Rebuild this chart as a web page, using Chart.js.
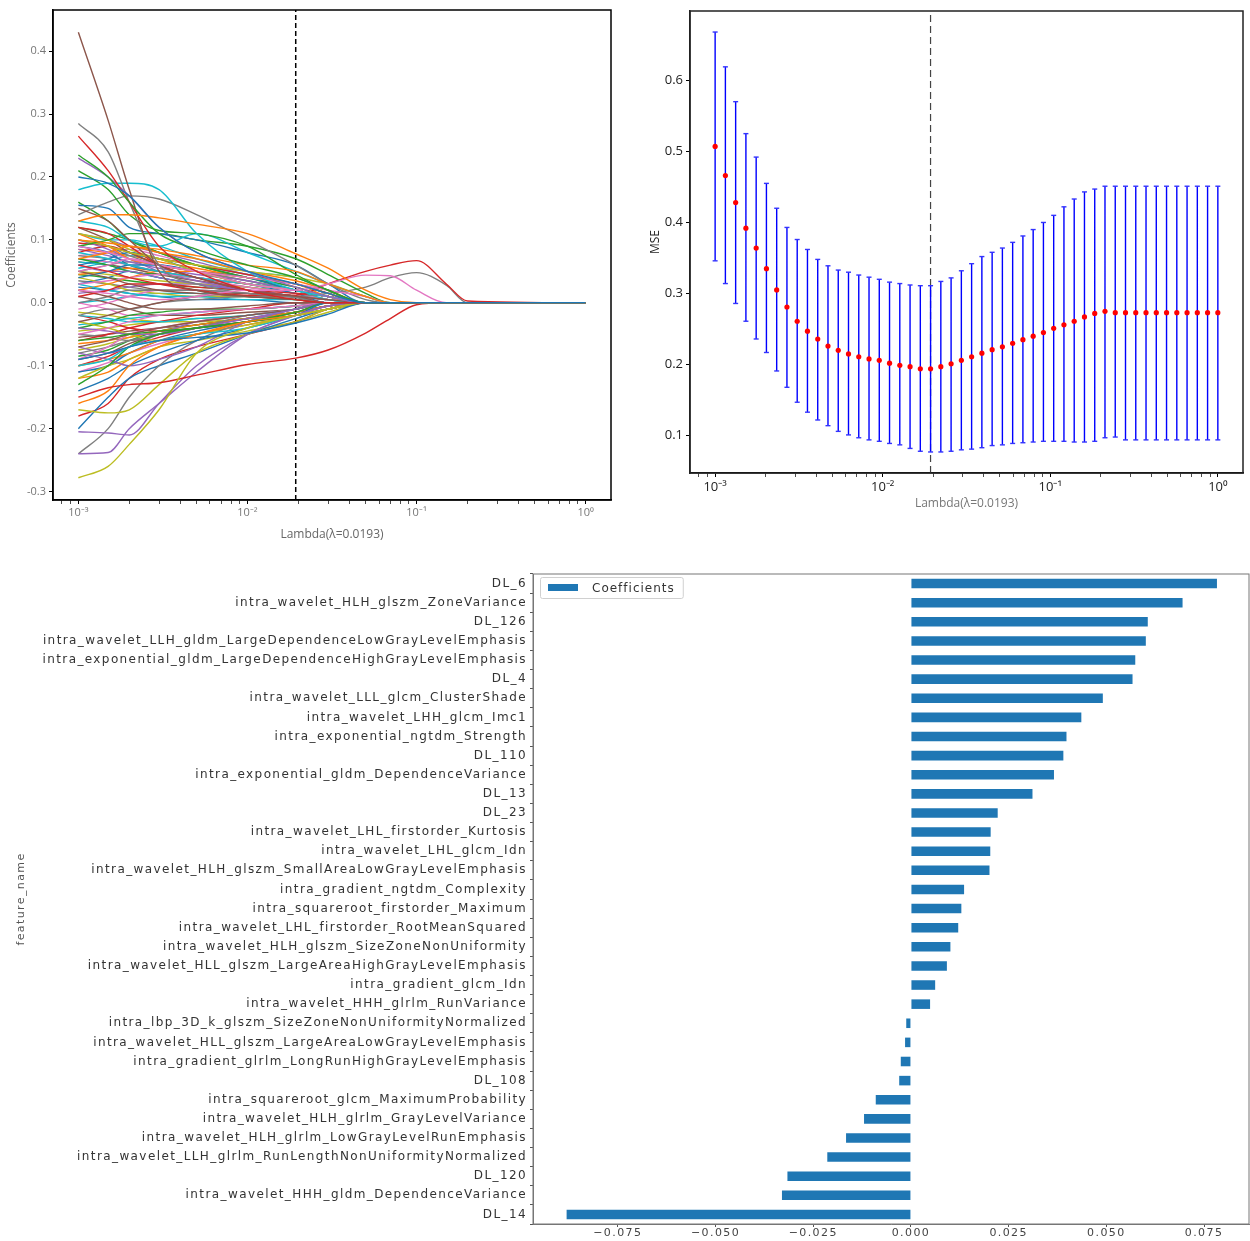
<!DOCTYPE html>
<html><head><meta charset="utf-8">
<script src="https://cdn.jsdelivr.net/npm/chart.js@4.4.1/dist/chart.umd.min.js"></script>
<style>
html,body{margin:0;padding:0;background:#fff;}
body{width:1250px;height:1241px;position:relative;overflow:hidden;}
.box{position:absolute;}
</style></head><body>
<div class="box" style="left:0;top:0;width:625px;height:545px"><canvas id="c1"></canvas></div>
<div class="box" style="left:630px;top:0;width:620px;height:520px"><canvas id="c2"></canvas></div>
<div class="box" style="left:0;top:560px;width:1250px;height:681px"><canvas id="c3"></canvas></div>
<script>
// ---------------- DATA ----------------
const TAB10 = ['#1f77b4','#ff7f0e','#2ca02c','#d62728','#9467bd','#8c564b','#e377c2','#7f7f7f','#bcbd22','#17becf'];
const bestLambda = 0.0193;
const lambdaTitle = 'Lambda(λ=0.0193)';

// Panel A: LASSO coefficient paths
const pathLambdas = [0.001,0.0015,0.002,0.003,0.005,0.01,0.0193,0.03,0.05,0.07,0.1,0.15,0.2,1];
const coefPaths = [
[0.20,0.19,0.17,0.12,0.08,0.05,0.03,0.015,0,0,0,0,0,0],
[0.13,0.14,0.14,0.135,0.125,0.11,0.078,0.055,0.02,0.005,0,0,0,0],
[0.235,0.20,0.16,0.11,0.085,0.06,0.04,0.02,0,0,0,0,0,0],
[0.265,0.21,0.16,0.09,0.05,0.02,0.005,0,0,0,0,0,0,0],
[0.23,0.20,0.17,0.12,0.08,0.05,0.025,0.01,0,0,0,0,0,0],
[0.43,0.29,0.18,0.05,0.02,0.01,0.005,0,0,0,0,0,0,0],
[0.02,0.015,0.01,0.005,0.01,0.02,0.02,0.03,0.044,0.043,0.02,0,0,0],
[0.285,0.24,0.16,0.06,0.03,0.015,0.008,0,0,0,0,0,0,0],
[-0.278,-0.26,-0.225,-0.17,-0.08,-0.04,-0.02,-0.01,0,0,0,0,0,0],
[0.18,0.19,0.19,0.18,0.11,0.05,0.02,0.01,0,0,0,0,0,0],
[-0.09,-0.08,-0.07,-0.06,-0.055,-0.048,-0.032,-0.018,0,0,0,0,0,0],
[0.10,0.095,0.09,0.085,0.075,0.06,0.05,0.03,0.01,0,0,0,0,0],
[0.21,0.18,0.14,0.115,0.11,0.09,0.045,0.02,0,0,0,0,0,0],
[-0.15,-0.135,-0.13,-0.127,-0.115,-0.098,-0.088,-0.075,-0.048,-0.025,-0.003,0,0,0],
[-0.205,-0.207,-0.21,-0.16,-0.10,-0.05,-0.02,-0.005,0,0,0,0,0,0],
[0.15,0.13,0.10,0.06,0.04,0.02,0.01,0,0,0,0,0,0,0],
[0.09,0.08,0.07,0.06,0.05,0.04,0.03,0.02,0.01,0,0,0,0,0],
[0.14,0.16,0.17,0.165,0.14,0.10,0.06,0.03,0.005,0,0,0,0,0],
[-0.17,-0.175,-0.17,-0.13,-0.08,-0.05,-0.03,-0.01,0,0,0,0,0,0],
[0.13,0.12,0.10,0.09,0.11,0.08,0.05,0.03,0.01,0,0,0,0,0],
[0.155,0.15,0.12,0.11,0.10,0.08,0.06,0.03,0,0,0,0,0,0],
[-0.16,-0.14,-0.10,-0.07,-0.05,-0.03,-0.02,-0.01,0,0,0,0,0,0],
[0.09,0.10,0.11,0.11,0.10,0.09,0.07,0.045,0.015,0,0,0,0,0],
[0.06,0.05,0.04,0.03,0.02,0.012,0.012,0.03,0.05,0.06,0.067,0.03,0.003,0],
[-0.24,-0.238,-0.20,-0.16,-0.11,-0.05,-0.02,-0.005,0,0,0,0,0,0],
[-0.03,-0.02,-0.01,0,0.01,0.015,0.01,0.005,0,0,0,0,0,0],
[0.05,0.06,0.07,0.06,0.05,0.03,0.02,0.01,0,0,0,0,0,0],
[-0.02,-0.01,-0.01,0,0.005,0.01,0.01,0.015,0.025,0.04,0.048,0.028,0,0],
[0.10,0.09,0.08,0.07,0.06,0.05,0.04,0.03,0.01,0,0,0,0,0],
[-0.10,-0.09,-0.07,-0.06,-0.05,-0.04,-0.02,-0.01,0,0,0,0,0,0],
[-0.14,-0.12,-0.10,-0.08,-0.06,-0.04,-0.02,0,0,0,0,0,0,0],
[0.07,0.08,0.09,0.08,0.07,0.05,0.035,0.02,0,0,0,0,0,0],
[-0.13,-0.10,-0.07,-0.05,-0.04,-0.03,-0.015,0,0,0,0,0,0,0],
[0.12,0.11,0.09,0.06,0.04,0.02,0.01,0,0,0,0,0,0,0],
[-0.08,-0.09,-0.10,-0.09,-0.07,-0.03,-0.01,0,0,0,0,0,0,0],
[0.05,0.04,0.03,0.02,0.015,0.01,0.005,0,0,0,0,0,0,0],
[-0.05,-0.04,-0.03,-0.02,-0.015,-0.01,-0.005,0,0,0,0,0,0,0],
[-0.24,-0.20,-0.15,-0.10,-0.06,-0.03,-0.01,0,0,0,0,0,0,0],
[0.11,0.10,0.085,0.07,0.05,0.03,0.02,0.01,0,0,0,0,0,0],
[0.08,0.07,0.06,0.05,0.04,0.03,0.02,0.005,0,0,0,0,0,0],
[-0.20,-0.15,-0.12,-0.10,-0.08,-0.05,-0.025,-0.01,0,0,0,0,0,0],
[0.11,0.09,0.07,0.06,0.05,0.04,0.03,0.01,0,0,0,0,0,0],
[-0.06,-0.055,-0.05,-0.045,-0.04,-0.03,-0.02,-0.01,0,0,0,0,0,0],
[-0.18,-0.16,-0.12,-0.09,-0.07,-0.05,-0.03,-0.01,0,0,0,0,0,0],
[0.06,0.05,0.05,0.04,0.03,0.02,0.01,0,0,0,0,0,0,0],
[-0.07,-0.06,-0.05,-0.04,-0.03,-0.02,-0.01,0,0,0,0,0,0,0],
[0.03,0.035,0.04,0.045,0.04,0.03,0.02,0.01,0,0,0,0,0,0],
[0.075,0.07,0.06,0.05,0.04,0.02,0.01,0,0,0,0,0,0,0],
[-0.12,-0.10,-0.09,-0.07,-0.06,-0.045,-0.03,-0.015,0,0,0,0,0,0],
[-0.02,-0.025,-0.03,-0.03,-0.025,-0.02,-0.01,0,0,0,0,0,0,0],
[0.04,0.05,0.06,0.06,0.05,0.04,0.02,0.01,0,0,0,0,0,0],
[-0.10,-0.09,-0.08,-0.06,-0.05,-0.03,-0.02,-0.01,0,0,0,0,0,0],
[0.16,0.13,0.10,0.08,0.06,0.04,0.02,0.01,0,0,0,0,0,0],
[0.01,0.02,0.03,0.03,0.025,0.02,0.015,0.01,0,0,0,0,0,0],
[-0.04,-0.045,-0.05,-0.05,-0.04,-0.025,-0.01,0,0,0,0,0,0,0],
[0.02,0.01,0,-0.01,-0.01,-0.005,0,0,0,0,0,0,0,0],
[-0.09,-0.07,-0.05,-0.04,-0.03,-0.02,-0.01,0,0,0,0,0,0,0],
[0,0.01,0.02,0.02,0.02,0.015,0.01,0.005,0,0,0,0,0,0],
[-0.03,-0.04,-0.05,-0.06,-0.05,-0.035,-0.02,-0.01,0,0,0,0,0,0],
[0.03,0.02,0.015,0.01,0.01,0.005,0.005,0,0,0,0,0,0,0],
[0.09,0.08,0.06,0.05,0.04,0.03,0.02,0.01,0,0,0,0,0,0],
[-0.12,-0.11,-0.09,-0.07,-0.05,-0.035,-0.02,-0.005,0,0,0,0,0,0],
[0.07,0.06,0.05,0.045,0.04,0.03,0.02,0.01,0,0,0,0,0,0],
[-0.06,-0.05,-0.04,-0.03,-0.02,-0.01,0,0,0,0,0,0,0,0],
[0.10,0.085,0.07,0.05,0.035,0.02,0.01,0,0,0,0,0,0,0],
[0.12,0.10,0.08,0.06,0.04,0.03,0.02,0.01,0,0,0,0,0,0],
[-0.01,0,0.01,0.02,0.02,0.015,0.01,0.005,0,0,0,0,0,0],
[-0.08,-0.07,-0.06,-0.05,-0.04,-0.02,-0.01,0,0,0,0,0,0,0],
[0.04,0.03,0.02,0.015,0.01,0.01,0.005,0,0,0,0,0,0,0],
[0.11,0.10,0.10,0.09,0.07,0.05,0.04,0.02,0,0,0,0,0,0],
[0.06,0.07,0.08,0.07,0.05,0.03,0.015,0,0,0,0,0,0,0],
[0.02,0.03,0.04,0.05,0.05,0.04,0.03,0.015,0,0,0,0,0,0],
[-0.04,-0.03,-0.02,-0.015,-0.01,-0.01,-0.005,0,0,0,0,0,0,0],
[0.08,0.09,0.08,0.06,0.05,0.03,0.02,0.01,0,0,0,0,0,0],
[-0.07,-0.08,-0.07,-0.05,-0.03,-0.02,-0.01,0,0,0,0,0,0,0],
[0.01,0,-0.01,-0.02,-0.02,-0.015,-0.01,0,0,0,0,0,0,0],
[0.07,0.065,0.06,0.05,0.04,0.025,0.015,0.005,0,0,0,0,0,0],
[-0.05,-0.055,-0.06,-0.05,-0.04,-0.03,-0.02,-0.01,0,0,0,0,0,0],
[0.05,0.045,0.04,0.035,0.03,0.025,0.015,0.005,0,0,0,0,0,0],
[-0.035,-0.03,-0.025,-0.02,-0.015,-0.01,-0.005,0,0,0,0,0,0,0],
[0.03,0.04,0.05,0.04,0.03,0.02,0.01,0,0,0,0,0,0,0],
[-0.065,-0.06,-0.055,-0.045,-0.035,-0.025,-0.015,-0.005,0,0,0,0,0,0],
[0.12,0.11,0.10,0.08,0.06,0.04,0.025,0.01,0,0,0,0,0,0],
[-0.02,-0.03,-0.04,-0.045,-0.04,-0.03,-0.02,-0.01,0,0,0,0,0,0],
[0.085,0.075,0.065,0.055,0.045,0.035,0.02,0.01,0,0,0,0,0,0],
[-0.09,-0.08,-0.065,-0.05,-0.04,-0.03,-0.015,0,0,0,0,0,0,0],
[0,-0.01,-0.02,-0.02,-0.015,-0.01,-0.005,0,0,0,0,0,0,0],
[0.10,0.09,0.075,0.06,0.05,0.035,0.02,0.01,0,0,0,0,0,0],
[-0.045,-0.04,-0.035,-0.03,-0.025,-0.02,-0.01,0,0,0,0,0,0,0],
[0.065,0.06,0.05,0.04,0.03,0.02,0.01,0,0,0,0,0,0,0],
[-0.11,-0.10,-0.08,-0.06,-0.045,-0.03,-0.02,-0.01,0,0,0,0,0,0],
[0.045,0.05,0.055,0.05,0.04,0.03,0.02,0.01,0,0,0,0,0,0],
[-0.085,-0.075,-0.06,-0.045,-0.035,-0.025,-0.015,-0.005,0,0,0,0,0,0],
[0.095,0.09,0.08,0.07,0.06,0.045,0.03,0.015,0,0,0,0,0,0],
[0.015,0.02,0.025,0.03,0.03,0.025,0.015,0.005,0,0,0,0,0,0],
[0.065,0.06,0.055,0.045,0.035,0.025,0.015,0.005,0,0,0,0,0,0],
[-0.11,-0.095,-0.08,-0.065,-0.05,-0.035,-0.02,-0.01,0,0,0,0,0,0],
[0.035,0.03,0.025,0.02,0.02,0.015,0.01,0.005,0,0,0,0,0,0],
[-0.015,-0.02,-0.025,-0.03,-0.03,-0.025,-0.015,-0.005,0,0,0,0,0,0],
[0.055,0.065,0.075,0.07,0.06,0.045,0.03,0.015,0,0,0,0,0,0],
[0.025,0.02,0.015,0.01,0.005,0.005,0,0,0,0,0,0,0,0],
[0.085,0.08,0.075,0.065,0.055,0.04,0.03,0.015,0,0,0,0,0,0],
[0.045,0.04,0.035,0.03,0.025,0.02,0.01,0,0,0,0,0,0,0],
[-0.10,-0.085,-0.07,-0.055,-0.04,-0.025,-0.015,-0.005,0,0,0,0,0,0],
[0.11,0.10,0.09,0.08,0.065,0.045,0.03,0.015,0,0,0,0,0,0],
[-0.055,-0.05,-0.045,-0.04,-0.035,-0.025,-0.015,-0.005,0,0,0,0,0,0],
[0.075,0.08,0.085,0.075,0.06,0.04,0.025,0.01,0,0,0,0,0,0],
[0.05,0.06,0.065,0.06,0.05,0.035,0.02,0.01,0,0,0,0,0,0],
[-0.075,-0.065,-0.055,-0.045,-0.035,-0.025,-0.015,-0.005,0,0,0,0,0,0],
[0,0.005,0.01,0.015,0.015,0.01,0.005,0,0,0,0,0,0,0]
];
const pathYTicks = [-0.3,-0.2,-0.1,0.0,0.1,0.2,0.3,0.4];
const pathYMin = -0.3134, pathYMax = 0.4654;

// Panel B: cross-validation MSE
const cvLambdas = [0.001,0.0011514,0.0013257,0.0015264,0.0017575,0.0020236,0.00233,0.0026827,0.0030888,0.0035565,
0.0040949,0.0047149,0.0054287,0.0062506,0.0071969,0.0082864,0.009541,0.0109854,0.0126485,0.0145635,
0.0167683,0.019307,0.02223,0.0255955,0.0294705,0.0339322,0.0390694,0.0449843,0.0517947,0.0596362,
0.0686649,0.0790604,0.0910298,0.1048113,0.1206793,0.1389495,0.1599859,0.184207,0.2120951,0.2442053,
0.2811769,0.3237458,0.3727594,0.4291934,0.4941713,0.5689866,0.6551286,0.754312,0.8685114,1.0];
const mseMean = [0.507,0.466,0.428,0.392,0.364,0.335,0.305,0.281,0.261,0.247,
0.236,0.226,0.220,0.215,0.211,0.208,0.206,0.202,0.199,0.197,
0.194,0.194,0.197,0.201,0.206,0.211,0.216,0.221,0.225,0.230,
0.235,0.240,0.245,0.251,0.256,0.261,0.267,0.272,0.275,0.273,
0.273,0.273,0.273,0.273,0.273,0.273,0.273,0.273,0.273,0.273];
const mseUpper = [0.668,0.619,0.570,0.525,0.492,0.455,0.420,0.393,0.376,0.362,
0.348,0.339,0.333,0.330,0.326,0.323,0.320,0.316,0.314,0.312,
0.311,0.311,0.317,0.322,0.332,0.342,0.352,0.358,0.364,0.372,
0.381,0.390,0.400,0.410,0.422,0.433,0.443,0.447,0.451,0.451,
0.451,0.451,0.451,0.451,0.451,0.451,0.451,0.451,0.451,0.451];
const mseLower = [0.346,0.314,0.286,0.261,0.236,0.217,0.191,0.168,0.147,0.133,
0.122,0.114,0.106,0.101,0.097,0.094,0.092,0.089,0.087,0.082,
0.078,0.077,0.077,0.078,0.080,0.081,0.083,0.086,0.087,0.089,
0.090,0.091,0.092,0.092,0.092,0.091,0.091,0.092,0.097,0.098,
0.094,0.094,0.094,0.094,0.094,0.094,0.094,0.094,0.094,0.094];
const mseYTicks = [0.1,0.2,0.3,0.4,0.5,0.6];
const mseYMin = 0.0474, mseYMax = 0.6976;

// shared log axis
const logXMin = 0.000708, logXMax = 1.413;
const logMajorTicks = [0.001,0.01,0.1,1];
const logMajorLabels = ['10⁻³','10⁻²','10⁻¹','10⁰'];
const logMinorTicks = [0.0008,0.0009,0.002,0.003,0.004,0.005,0.006,0.007,0.008,0.009,
0.02,0.03,0.04,0.05,0.06,0.07,0.08,0.09,0.2,0.3,0.4,0.5,0.6,0.7,0.8,0.9];

// Panel C: selected feature coefficients
const featureNames = ['DL_6','intra_wavelet_HLH_glszm_ZoneVariance','DL_126',
'intra_wavelet_LLH_gldm_LargeDependenceLowGrayLevelEmphasis',
'intra_exponential_gldm_LargeDependenceHighGrayLevelEmphasis','DL_4',
'intra_wavelet_LLL_glcm_ClusterShade','intra_wavelet_LHH_glcm_Imc1',
'intra_exponential_ngtdm_Strength','DL_110','intra_exponential_gldm_DependenceVariance',
'DL_13','DL_23','intra_wavelet_LHL_firstorder_Kurtosis','intra_wavelet_LHL_glcm_Idn',
'intra_wavelet_HLH_glszm_SmallAreaLowGrayLevelEmphasis','intra_gradient_ngtdm_Complexity',
'intra_squareroot_firstorder_Maximum','intra_wavelet_LHL_firstorder_RootMeanSquared',
'intra_wavelet_HLH_glszm_SizeZoneNonUniformity','intra_wavelet_HLL_glszm_LargeAreaHighGrayLevelEmphasis',
'intra_gradient_glcm_Idn','intra_wavelet_HHH_glrlm_RunVariance',
'intra_lbp_3D_k_glszm_SizeZoneNonUniformityNormalized','intra_wavelet_HLL_glszm_LargeAreaLowGrayLevelEmphasis',
'intra_gradient_glrlm_LongRunHighGrayLevelEmphasis','DL_108',
'intra_squareroot_glcm_MaximumProbability','intra_wavelet_HLH_glrlm_GrayLevelVariance',
'intra_wavelet_HLH_glrlm_LowGrayLevelRunEmphasis','intra_wavelet_LLH_glrlm_RunLengthNonUniformityNormalized',
'DL_120','intra_wavelet_HHH_gldm_DependenceVariance','DL_14'];
const featureCoefs = [0.0783,0.0695,0.0606,0.0601,0.0574,0.0567,0.0491,0.0436,0.0398,0.0390,0.0366,
0.0311,0.0222,0.0204,0.0203,0.0201,0.0136,0.0129,0.0121,0.0101,0.0092,0.0062,0.0049,
-0.0012,-0.0015,-0.0026,-0.0030,-0.0090,-0.0120,-0.0166,-0.0214,-0.0316,-0.0330,-0.0881];
const coefXTicks = [-0.075,-0.05,-0.025,0,0.025,0.05,0.075];
const coefXMin = -0.0967, coefXMax = 0.0865;

// ---------------- HELPERS ----------------
Chart.defaults.animation = false;
Chart.defaults.devicePixelRatio = 1;
const framePlugin = {
  id: 'frame',
  afterDatasetsDraw(chart, args, opts) {
    const a = chart.chartArea, ctx = chart.ctx;
    ctx.save();
    ctx.strokeStyle = opts.color || '#000';
    ctx.lineWidth = opts.width || 1;
    ctx.strokeRect(a.left, a.top, a.right - a.left, a.bottom - a.top);
    ctx.restore();
  }
};
const spacingPlugin = {
  id: 'spacing',
  beforeDraw(chart, args, opts) { if ('letterSpacing' in chart.ctx) chart.ctx.letterSpacing = opts.value || '0px'; },
  afterDraw(chart) { if ('letterSpacing' in chart.ctx) chart.ctx.letterSpacing = '0px'; }
};
const boxLegendPlugin = {
  id: 'boxLegend',
  afterDraw(chart, args, o) {
    const ds = chart.data.datasets[0], ctx = chart.ctx, a = chart.chartArea;
    const x0 = a.left + o.offsetX, y0 = a.top + o.offsetY;
    ctx.save();
    if ('letterSpacing' in ctx) ctx.letterSpacing = o.spacing;
    ctx.font = o.font;
    const tw = ctx.measureText(ds.label).width;
    const w = o.pad + o.swatchW + o.gap + tw + o.pad, h = o.height;
    ctx.fillStyle = 'rgba(255,255,255,0.85)';
    ctx.strokeStyle = o.border; ctx.lineWidth = 1;
    ctx.beginPath();
    if (ctx.roundRect) ctx.roundRect(x0 + 0.5, y0 + 0.5, w, h, 2); else ctx.rect(x0 + 0.5, y0 + 0.5, w, h);
    ctx.fill(); ctx.stroke();
    ctx.fillStyle = ds.backgroundColor;
    ctx.fillRect(x0 + o.pad, y0 + h / 2 - o.swatchH / 2, o.swatchW, o.swatchH);
    ctx.fillStyle = o.color; ctx.textBaseline = 'middle'; ctx.textAlign = 'left';
    ctx.fillText(ds.label, x0 + o.pad + o.swatchW + o.gap, y0 + h / 2 + 1);
    ctx.restore();
  }
};
const logTickObjs = logMajorTicks.concat(logMinorTicks).sort((a,b)=>a-b);
function logLabel(v) {
  for (let i = 0; i < logMajorTicks.length; i++) {
    if (Math.abs(v - logMajorTicks[i]) / logMajorTicks[i] < 1e-6) return logMajorLabels[i];
  }
  return '';
}
function logXScale(fontSize, color, titleColor, titlePad, height) {
  return {
    type: 'logarithmic', min: logXMin, max: logXMax,
    afterBuildTicks: s => { s.ticks = logTickObjs.map(v => ({value: v})); },
    afterFit: s => { s.height = height; },
    ticks: {autoSkip: false, maxRotation: 0, minRotation: 0, padding: 2, color: color,
      font: {family: 'Open Sans', size: fontSize}, callback: v => logLabel(v)},
    grid: {drawOnChartArea: false, tickLength: 4, tickColor: '#000',
      tickWidth: c => (logLabel(c.tick.value) ? 1 : 0.7)},
    border: {color: '#000', width: 1.5},
    title: {display: true, text: lambdaTitle, color: titleColor,
      font: {family: 'Open Sans', size: 12}, padding: {top: 0, bottom: titlePad}}
  };
}

// ---------------- PANEL A ----------------
const dsA = coefPaths.map((p, i) => ({
  data: pathLambdas.map((l, j) => ({x: l, y: p[j]})),
  borderColor: TAB10[i % 10], borderWidth: 1.4, pointRadius: 0, showLine: true,
  cubicInterpolationMode: 'monotone', fill: false
}));
dsA.push({data: [{x: bestLambda, y: pathYMin}, {x: bestLambda, y: pathYMax}],
  borderColor: '#000', borderWidth: 1.5, borderDash: [5, 3], pointRadius: 0, showLine: true});
new Chart(document.getElementById('c1'), {
  type: 'scatter',
  data: {datasets: dsA},
  plugins: [framePlugin],
  options: {
    responsive: true, maintainAspectRatio: false,
    layout: {padding: {left: 0, top: 10, right: 14, bottom: 0}},
    plugins: {legend: {display: false}, tooltip: {enabled: false}, frame: {color: '#000', width: 1.5}},
    scales: {
      x: logXScale(11, '#777', '#666', 3, 45),
      y: {
        type: 'linear', min: pathYMin, max: pathYMax,
        afterBuildTicks: s => { s.ticks = pathYTicks.map(v => ({value: v})); },
        afterFit: s => { s.width = 53; },
        ticks: {color: '#777', font: {family: 'Open Sans', size: 11}, padding: 3,
          callback: v => v.toFixed(1)},
        grid: {drawOnChartArea: false, tickLength: 4, tickColor: '#000'},
        border: {color: '#000', width: 1.5},
        title: {display: true, text: 'Coefficients', color: '#666',
          font: {family: 'Open Sans', size: 12}, padding: {top: 4, bottom: 0}}
      }
    }
  }
});

// ---------------- PANEL B ----------------
const errData = [];
cvLambdas.forEach((l, i) => {
  errData.push({x: l, y: mseLower[i]}, {x: l, y: mseUpper[i]}, {x: l, y: null});
});
new Chart(document.getElementById('c2'), {
  type: 'scatter',
  data: {datasets: [
    {data: [{x: bestLambda, y: mseYMin}, {x: bestLambda, y: mseYMax}], showLine: true,
      borderColor: '#444', borderWidth: 1.2, borderDash: [7, 4], pointRadius: 0, order: 3},
    {data: errData, showLine: true, spanGaps: false, borderColor: '#0000ff', borderWidth: 1.4,
      pointStyle: 'line', pointRadius: 2.5, pointBorderColor: '#3333ff', pointBorderWidth: 1.4, order: 2},
    {data: cvLambdas.map((l, i) => ({x: l, y: mseMean[i]})), pointRadius: 2.6,
      pointBackgroundColor: '#ff0000', pointBorderWidth: 0, showLine: false, order: 1}
  ]},
  plugins: [framePlugin],
  options: {
    responsive: true, maintainAspectRatio: false,
    layout: {padding: {left: 0, top: 11, right: 7, bottom: 0}},
    plugins: {legend: {display: false}, tooltip: {enabled: false}, frame: {color: '#222', width: 1.5}},
    scales: {
      x: logXScale(13, '#222', '#777', 9, 47),
      y: {
        type: 'linear', min: mseYMin, max: mseYMax,
        afterBuildTicks: s => { s.ticks = mseYTicks.map(v => ({value: v})); },
        afterFit: s => { s.width = 60; },
        ticks: {color: '#222', font: {family: 'Open Sans', size: 13}, padding: 3,
          callback: v => v.toFixed(1)},
        grid: {drawOnChartArea: false, tickLength: 4, tickColor: '#000'},
        border: {color: '#222', width: 1.5},
        title: {display: true, text: 'MSE', color: '#222',
          font: {family: 'Open Sans', size: 12}, padding: {top: 18, bottom: 0}}
      }
    }
  }
});

// ---------------- PANEL C ----------------
new Chart(document.getElementById('c3'), {
  type: 'bar',
  data: {labels: featureNames, datasets: [{label: 'Coefficients', data: featureCoefs,
    backgroundColor: '#1f77b4', borderWidth: 0, barPercentage: 0.5, categoryPercentage: 1.0}]},
  plugins: [spacingPlugin, framePlugin, boxLegendPlugin],
  options: {
    indexAxis: 'y',
    responsive: true, maintainAspectRatio: false,
    layout: {padding: {left: 0, top: 14, right: 1, bottom: 0}},
    plugins: {
      tooltip: {enabled: false},
      legend: {display: false},
      spacing: {value: '1.4px'},
      frame: {color: '#777', width: 1},
      boxLegend: {offsetX: 7, offsetY: 3, pad: 8, swatchW: 30, swatchH: 7, gap: 14, height: 21,
        font: '12px "DejaVu Sans"', color: '#333', border: '#d0d0d0', spacing: '1px'}
    },
    scales: {
      x: {
        type: 'linear', min: coefXMin, max: coefXMax,
        afterBuildTicks: s => { s.ticks = coefXTicks.map(v => ({value: v})); },
        afterFit: s => { s.height = 17; },
        ticks: {color: '#444', font: {family: 'DejaVu Sans', size: 11}, padding: 0, maxRotation: 0,
          callback: v => (v < 0 ? '−' : '') + Math.abs(v).toFixed(3)},
        grid: {drawOnChartArea: false, tickLength: 3, tickColor: '#555'},
        border: {color: '#777', width: 1}
      },
      y: {
        type: 'category',
        afterFit: s => { s.width = 533; },
        ticks: {color: '#333', font: {family: 'DejaVu Sans', size: 12}, padding: 3, autoSkip: false},
        grid: {drawOnChartArea: false, tickLength: 3, tickColor: '#555'},
        border: {color: '#777', width: 1},
        title: {display: true, text: 'feature_name', color: '#555',
          font: {family: 'DejaVu Sans', size: 11}, padding: {top: 15, bottom: 0}}
      }
    }
  }
});
</script>
</body></html>
